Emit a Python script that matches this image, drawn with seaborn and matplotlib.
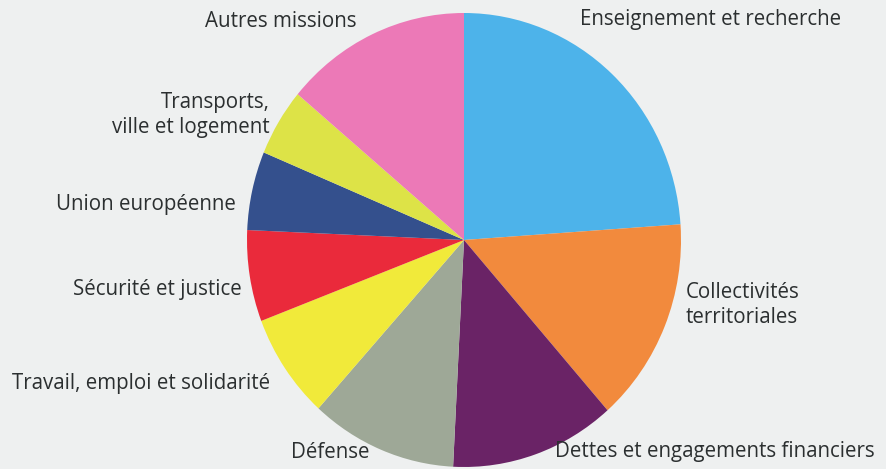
import matplotlib.pyplot as plt
import seaborn as sns

# budget shares (%), clockwise from 12 o'clock
LABELS = [
    "Enseignement et recherche",
    "Collectivités\nterritoriales",
    "Dettes et engagements financiers",
    "Défense",
    "Travail, emploi et solidarité",
    "Sécurité et justice",
    "Union européenne",
    "Transports,\nville et logement",
    "Autres missions",
]
SHARES = [23.9, 14.6, 12.3, 10.9, 7.5, 6.5, 5.6, 4.8, 13.9]
COLORS = [
    "#4db3ea", "#f28a3d", "#6a2366", "#9ea897", "#f1ea3a",
    "#ea2a3b", "#34508d", "#dde347", "#ec79b7",
]

# label anchors in pixel coordinates (x, y from top) and alignment
LABEL_POS = [
    (580, 20, "left"),
    (686, 305, "left"),
    (555, 452, "left"),
    (370, 452, "right"),
    (270, 383, "right"),
    (242, 290, "right"),
    (236, 205, "right"),
    (270, 115, "right"),
    (357, 22, "right"),
]

W, H = 887, 469
CX, CY = 464, 240
RX, RY = 217, 227
BG = "#eef0f0"

sns.set_style("white")
plt.rcParams["font.family"] = ["Open Sans", "DejaVu Sans"]


def to_data(px, py):
    return (px - CX) / RX, (CY - py) / RY


def main() -> None:
    fig = plt.figure(figsize=(W / 100, H / 100), dpi=100, facecolor=BG)
    ax = fig.add_axes([0, 0, 1, 1])
    ax.set_facecolor(BG)
    palette = sns.color_palette(COLORS)
    ax.pie(
        SHARES,
        colors=palette,
        startangle=90,
        counterclock=False,
        radius=1,
        wedgeprops={"linewidth": 0},
    )
    ax.set_aspect("auto")
    x0, y0 = to_data(0, H)
    x1, y1 = to_data(W, 0)
    ax.set_xlim(x0, x1)
    ax.set_ylim(y0, y1)
    ax.axis("off")

    for label, (px, py, ha) in zip(LABELS, LABEL_POS):
        x, y = to_data(px, py)
        ax.text(
            x, y, label, ha=ha, va="center", fontsize=14.8,
            color="#2b2f30", linespacing=1.3,
            multialignment=ha,
        )

    fig.savefig("out.png", dpi=100, facecolor=BG)


if __name__ == "__main__":
    main()
